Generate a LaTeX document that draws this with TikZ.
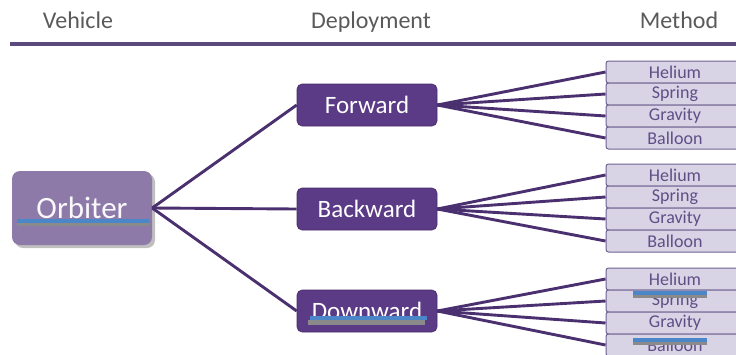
\documentclass[tikz,border=0pt]{standalone}
\usepackage{fontspec}
\setmainfont{Carlito}
\definecolor{hdrtext}{HTML}{5A5A5A}
\definecolor{hdrrule}{HTML}{5B4A7C}
\definecolor{conn}{HTML}{4B3070}
\definecolor{orbfill}{HTML}{8D7AA9}
\definecolor{depfill}{HTML}{5B3A86}
\definecolor{metfill}{HTML}{D9D3E6}
\definecolor{metdraw}{HTML}{6F6290}
\definecolor{mettext}{HTML}{5E4F86}
\definecolor{markblue}{HTML}{4A86C8}
\definecolor{markgray}{HTML}{8A8A8A}
\tikzset{
  hdr/.style={text=hdrtext, font=\fontsize{24}{28}\selectfont, anchor=base, inner sep=0},
  orbbox/.style={fill=orbfill, rounded corners=8pt, minimum width=140pt, minimum height=74pt, text=white!95!orbfill, font=\fontsize{31}{36}\selectfont, inner sep=0},
  depbox/.style={fill=depfill, draw=depfill!80!black, line width=0.6pt, rounded corners=5pt, minimum width=140pt, minimum height=42pt, text=white, font=\fontsize{25}{30}\selectfont, inner sep=0},
  metbox/.style={fill=metfill, draw=metdraw, line width=1pt, rounded corners=2.5pt, minimum width=138pt, minimum height=22pt, text=mettext, font=\fontsize{18}{20}\selectfont, inner sep=0},
  link/.style={draw=conn, line width=2.9pt},
  bluebar/.style={fill=markblue},
  graybar/.style={fill=markgray}
}
\begin{document}
\begin{tikzpicture}[x=1pt,y=-1pt]
\useasboundingbox (0,0) rectangle (736,354);
% header
\node[hdr] (hv) at (78,28) {Vehicle};
\node[hdr] (hd) at (371,28) {Deployment};
\node[hdr] (hm) at (679,28) {Method};
\coordinate (rl) at (10,44);
\coordinate (rr) at (740,44);
\draw[hdrrule, line width=4pt] (rl) -- (rr);
% vehicle
\fill[black!25, rounded corners=8pt] (15,174) rectangle (155,248);
\node[orbbox] (orb) at (82,208) {Orbiter};
% deployment
\node[depbox] (fwd) at (367,105) {Forward};
\node[depbox] (bwd) at (367,209) {Backward};
\node[depbox] (dwn) at (367,311) {Downward};
% methods
\foreach \g/\t in {1/61, 2/164, 3/268} {
  \node[metbox] (h\g) at (675,\t+11) {Helium};
  \node[metbox] (s\g) at (675,\t+33) {Spring};
  \node[metbox] (v\g) at (675,\t+55) {Gravity};
  \node[metbox] (b\g) at (675,\t+77) {Balloon};
}
% connectors
\foreach \d in {fwd,bwd,dwn} \draw[link] (orb.east) -- (\d.west);
\foreach \d/\g in {fwd/1,bwd/2,dwn/3} {
  \foreach \m in {h,s,v,b} \draw[link] (\d.east) -- (\m\g.west);
}
% marks
\fill[graybar] (17,223) rectangle (149,226);
\fill[bluebar] (17,219) rectangle (149,223);
\fill[graybar] (308,320) rectangle (425,325);
\fill[bluebar] (310,316) rectangle (427,320);
\fill[graybar] (633,295) rectangle (707,298);
\fill[bluebar] (633,291) rectangle (707,295);
\fill[graybar] (633,342) rectangle (707,345);
\fill[bluebar] (633,338) rectangle (707,342);
\end{tikzpicture}
\end{document}
